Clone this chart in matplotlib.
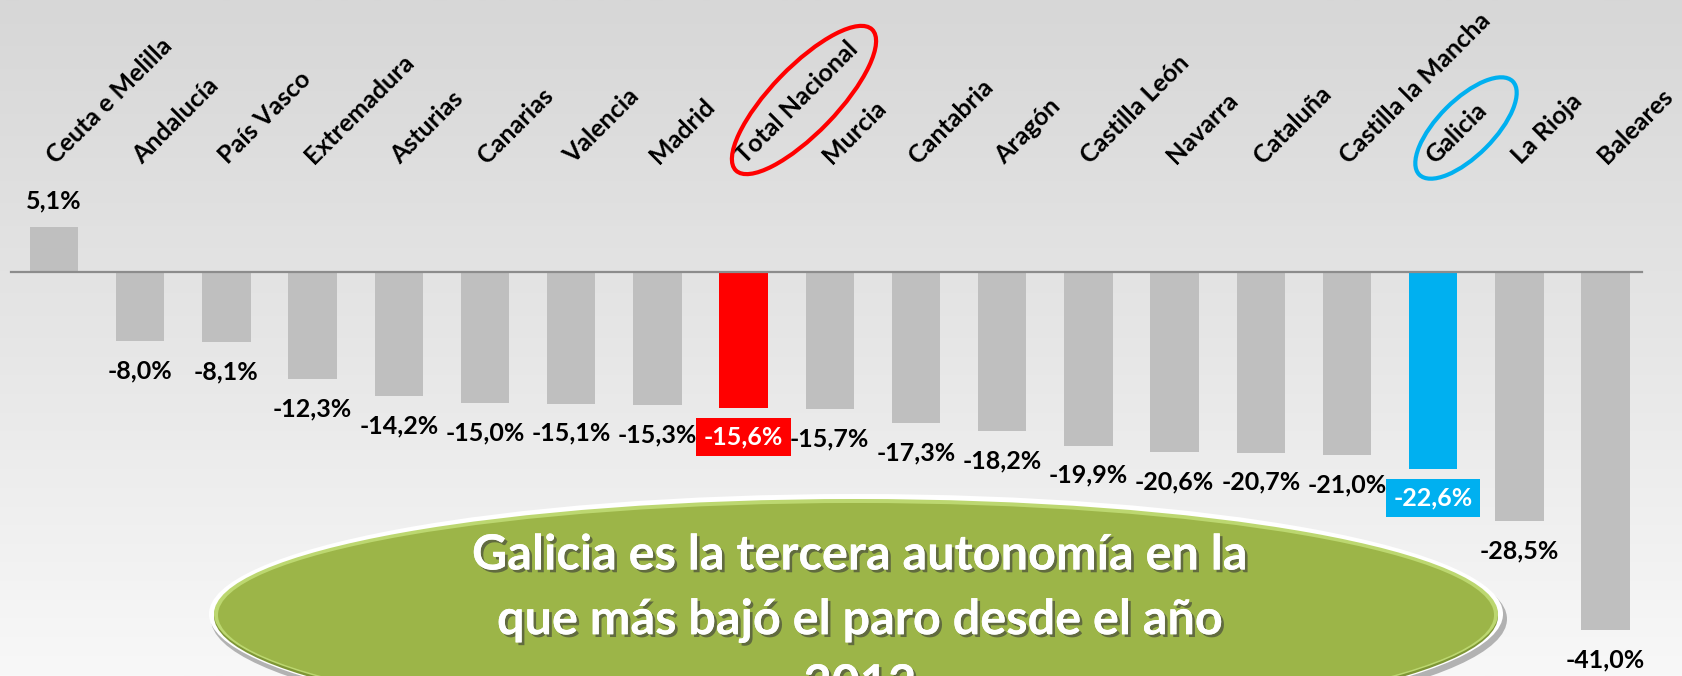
"""Variación del paro por comunidad autónoma, barras con etiquetas giradas."""

import matplotlib
import matplotlib.pyplot as plt
import matplotlib.patheffects as pe
import numpy as np
from matplotlib.patches import Ellipse

matplotlib.use("Agg")

regions = [
    "Ceuta e Melilla", "Andalucía", "País Vasco", "Extremadura", "Asturias",
    "Canarias", "Valencia", "Madrid", "Total Nacional", "Murcia", "Cantabria",
    "Aragón", "Castilla León", "Navarra", "Cataluña", "Castilla la Mancha",
    "Galicia", "La Rioja", "Baleares",
]
changes = [
    5.1, -8.0, -8.1, -12.3, -14.2, -15.0, -15.1, -15.3, -15.6, -15.7,
    -17.3, -18.2, -19.9, -20.6, -20.7, -21.0, -22.6, -28.5, -41.0,
]
value_labels = [f"{v:.1f}%".replace(".", ",") for v in changes]
highlight = {"Total Nacional": "#FF0000", "Galicia": "#00B0F0"}
callout_lines = [
    "Galicia es la tercera autonomía en la",
    "que más bajó el paro desde el año",
    "2012",
]

plt.rcParams["font.family"] = ["Lato", "DejaVu Sans"]
plt.rcParams["font.weight"] = "bold"

W, H = 1683, 676
fig = plt.figure(figsize=(W / 100, H / 100), dpi=100)

# background gradient
bg = fig.add_axes([0, 0, 1, 1], zorder=0)
grad = np.linspace(0, 1, 256).reshape(-1, 1)
bg_cmap = matplotlib.colors.LinearSegmentedColormap.from_list(
    "bg", ["#D7D7D7", "#E6E6E6", "#F8F8F8"])
bg.imshow(grad, cmap=bg_cmap, aspect="auto", extent=[0, 1, 0, 1], origin="upper")
bg.set_axis_off()

# bars
ax = fig.add_axes([0, 0, 1, 1], zorder=1)
ax.patch.set_alpha(0)
x = np.arange(len(regions))
colors = [highlight.get(r, "#BFBFBF") for r in regions]
ax.bar(x, changes, width=0.56, color=colors, zorder=2)
ax.axhline(0, xmin=0.0065, xmax=0.9756, color="#8C8C8C", lw=1.6, zorder=3)
ax.set_xlim(-0.626, 18.898)
ax.set_ylim(-46.23, 31.03)
ax.set_axis_off()

for xi, name, v, lab in zip(x, regions, changes, value_labels):
    ax.text(xi + 0.02, 12.2, name, rotation=45, rotation_mode="anchor",
            ha="left", va="baseline", fontsize=18, color="black")
    if v >= 0:
        ax.text(xi, v + 3.0, lab, ha="center", va="center", fontsize=18)
    elif name in highlight:
        ax.text(xi, v - 3.3, lab, ha="center", va="center", fontsize=18,
                color="white",
                bbox=dict(boxstyle="square,pad=0.3", fc=highlight[name], ec="none"))
    else:
        ax.text(xi, v - 3.4, lab, ha="center", va="center", fontsize=18)

# decorations in pixel space
deco = fig.add_axes([0, 0, 1, 1], zorder=2)
deco.patch.set_alpha(0)
deco.set_xlim(0, W)
deco.set_ylim(H, 0)
deco.set_axis_off()

deco.add_patch(Ellipse((804, 100), 196, 66, angle=-46, fill=False,
                       ec="#FF0000", lw=3.0))
deco.add_patch(Ellipse((1466, 128), 132, 56, angle=-45, fill=False,
                       ec="#00B0F0", lw=3.0))

# green callout
cx, cy = 856, 614
deco.add_patch(Ellipse((cx + 3, cy + 5), 1296, 242, fc="#7A7A7A", ec="none", alpha=0.55))
deco.add_patch(Ellipse((cx, cy), 1294, 240, fc="white", ec="none"))
deco.add_patch(Ellipse((cx, cy + 2), 1284, 232, fc="#7E9636", ec="none"))
deco.add_patch(Ellipse((cx, cy), 1284, 230, fc="#BCD770", ec="none"))
deco.add_patch(Ellipse((cx, cy + 1), 1276, 224, fc="#9CB548", ec="none"))
for i, line in enumerate(callout_lines):
    deco.text(860, 555 + 65 * i, line, ha="center", va="center", fontsize=35,
              color="white",
              path_effects=[pe.withSimplePatchShadow(offset=(2, -2),
                                                     shadow_rgbFace="#3A3A3A",
                                                     alpha=0.6),
                            pe.Normal()])

fig.savefig("out.png", dpi=100)
plt.close(fig)
